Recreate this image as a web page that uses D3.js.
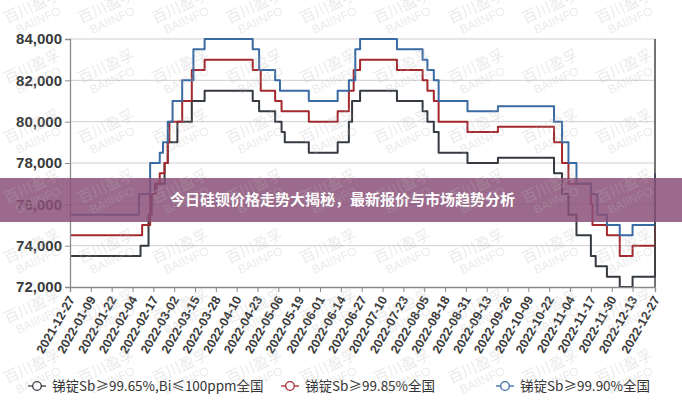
<!DOCTYPE html>
<html><head><meta charset="utf-8">
<script src="https://cdn.jsdelivr.net/npm/d3@7"></script>
<style>
html,body{margin:0;padding:0;background:#fff;}
svg{display:block;}
</style></head>
<body>
<svg id="c" width="682" height="400"></svg>
<script>
// ---------------- DATA ----------------
const seriesNames = ["锑锭Sb≥99.65%,Bi≤100ppm全国", "锑锭Sb≥99.85%全国", "锑锭Sb≥99.90%全国"];
const seriesSb9965 = [
 ["2021-12-27",73500],["2022-02-09",74000],["2022-02-14",75500],["2022-02-16",76500],["2022-02-18",77000],
 ["2022-02-24",78000],["2022-02-26",79000],["2022-03-04",80000],["2022-03-13",81000],["2022-03-21",81500],
 ["2022-04-20",81000],["2022-04-24",80500],["2022-05-04",80000],["2022-05-08",79500],["2022-05-10",79000],
 ["2022-05-25",78500],["2022-06-12",79000],["2022-06-19",80000],["2022-06-21",81000],["2022-06-26",81500],
 ["2022-07-19",81000],["2022-08-04",80500],["2022-08-07",80000],["2022-08-11",79500],["2022-08-14",78500],
 ["2022-09-01",78000],["2022-09-20",78250],["2022-10-25",77500],["2022-10-30",76500],["2022-11-03",75500],
 ["2022-11-08",74500],["2022-11-17",73500],["2022-11-20",73000],["2022-11-27",72500],["2022-12-05",72000],
 ["2022-12-13",72500],["2022-12-27",75000]
];
const seriesSb9985 = [
 ["2021-12-27",74500],["2022-02-10",75000],["2022-02-15",76500],["2022-02-19",77000],["2022-02-21",77500],
 ["2022-02-24",78000],["2022-02-26",79000],["2022-02-27",80000],["2022-03-07",81000],["2022-03-13",82500],
 ["2022-03-21",83000],["2022-04-20",82500],["2022-04-25",81500],["2022-05-04",81000],["2022-05-08",80500],
 ["2022-05-25",80000],["2022-06-12",80500],["2022-06-19",81500],["2022-06-22",82500],["2022-06-26",83000],
 ["2022-07-19",82500],["2022-08-04",82000],["2022-08-07",81500],["2022-08-11",81000],["2022-08-14",80000],
 ["2022-09-01",79500],["2022-09-20",79750],["2022-10-25",79000],["2022-10-30",78000],["2022-11-03",77000],
 ["2022-11-17",76000],["2022-11-18",75000],["2022-11-27",74500],["2022-12-05",73500],["2022-12-13",74000],
 ["2022-12-27",76500]
];
const seriesSb9990 = [
 ["2021-12-27",75500],["2022-02-08",76500],["2022-02-15",78000],["2022-02-21",78500],["2022-02-23",79000],
 ["2022-02-26",80000],["2022-03-01",81000],["2022-03-07",82000],["2022-03-14",83500],["2022-03-21",84000],
 ["2022-04-20",83500],["2022-04-24",82500],["2022-05-04",82000],["2022-05-07",81500],["2022-05-25",81000],
 ["2022-06-12",81500],["2022-06-19",82000],["2022-06-23",83500],["2022-06-26",84000],["2022-07-19",83500],
 ["2022-08-04",83000],["2022-08-07",82500],["2022-08-11",82000],["2022-08-14",81000],["2022-09-01",80500],
 ["2022-09-20",80750],["2022-10-25",80000],["2022-10-30",79000],["2022-11-03",78000],["2022-11-08",77000],
 ["2022-11-17",76500],["2022-11-21",75500],["2022-11-27",75000],["2022-12-05",74500],["2022-12-13",75000],
 ["2022-12-27",77500]
];
const xTickLabels = ["2021-12-27","2022-01-09","2022-01-22","2022-02-04","2022-02-17","2022-03-02","2022-03-15",
 "2022-03-28","2022-04-10","2022-04-23","2022-05-06","2022-05-19","2022-06-01","2022-06-14","2022-06-27",
 "2022-07-10","2022-07-23","2022-08-05","2022-08-18","2022-08-31","2022-09-13","2022-09-26","2022-10-09",
 "2022-10-22","2022-11-04","2022-11-17","2022-11-30","2022-12-13","2022-12-27"];
const yTickValues = [72000, 74000, 76000, 78000, 80000, 82000, 84000];
const bannerText = "今日硅钡价格走势大揭秘，最新报价与市场趋势分析";
const watermarkCN = "百川盈孚", watermarkEN = "BAIINFO";

// ---------------- CHART ----------------
const parse = d3.utcParse("%Y-%m-%d");
const colors = ["#343a40", "#a3282e", "#3a6aa3"];
const allSeries = [seriesSb9965, seriesSb9985, seriesSb9990].map(s => s.map(([d, v]) => ({date: parse(d), value: v})));

const svg = d3.select("#c");
const L = 70, R = 655, T = 39, B = 287;
const x = d3.scaleUtc().domain([parse(xTickLabels[0]), parse(xTickLabels[xTickLabels.length - 1])]).range([L, R]);
const y = d3.scaleLinear().domain([72000, 84000]).range([B, T]);

// gridlines
svg.append("g").selectAll("line").data(yTickValues.filter(v => v > 72000)).join("line")
  .attr("x1", L).attr("x2", R).attr("y1", d => y(d)).attr("y2", d => y(d))
  .attr("stroke", "#cfcfcf").attr("stroke-width", 1);

// lines
const line = d3.line().x(d => x(d.date)).y(d => y(d.value)).curve(d3.curveStepAfter);
svg.append("g").selectAll("path").data(allSeries).join("path")
  .attr("d", line).attr("fill", "none")
  .attr("stroke", (d, i) => colors[i]).attr("stroke-width", 2).attr("stroke-linejoin", "round");

// right border
svg.append("line").attr("x1", R).attr("x2", R).attr("y1", T).attr("y2", B)
  .attr("stroke", "#444").attr("stroke-width", 1.5);

// y axis
const yAxis = svg.append("g").attr("transform", `translate(${L},0)`)
  .call(d3.axisLeft(y).tickValues(yTickValues).tickSize(5).tickPadding(3).tickFormat(d3.format(",")));
yAxis.select(".domain").attr("stroke", "#8a8a8a").attr("stroke-width", 1.3);
yAxis.selectAll(".tick line").attr("stroke", "#8a8a8a");
yAxis.selectAll("text").attr("font-family", "'Liberation Sans', Arial, sans-serif")
  .attr("font-size", "15px").attr("font-weight", "bold").attr("fill", "#3a3a3a");

// x axis
const xAxis = svg.append("g").attr("transform", `translate(0,${B})`)
  .call(d3.axisBottom(x).tickValues(xTickLabels.map(parse)).tickSize(5).tickFormat(d3.utcFormat("%Y-%m-%d")));
xAxis.select(".domain").attr("stroke", "#8a8a8a").attr("stroke-width", 1.3);
xAxis.selectAll(".tick line").attr("stroke", "#8a8a8a");
xAxis.selectAll("text")
  .attr("x", 0).attr("y", 0).attr("dy", "0.35em")
  .attr("transform", "translate(1,10) rotate(-60)")
  .style("text-anchor", "end")
  .attr("font-family", "'Liberation Sans', Arial, sans-serif")
  .attr("font-size", "12.5px").attr("font-weight", "bold").attr("fill", "#3a3a3a");

// legend
const legendX = [37, 290, 505];
const lg = svg.append("g").attr("transform", "translate(0,386)");
seriesNames.forEach((name, i) => {
  const g = lg.append("g").attr("transform", `translate(${legendX[i]},0)`);
  g.append("line").attr("x1", -9).attr("x2", 9).attr("stroke", colors[i]).attr("stroke-width", 1.3);
  g.append("circle").attr("r", 4.3).attr("fill", "#fff").attr("stroke", colors[i]).attr("stroke-width", 1.3);
  g.append("text").attr("x", 15).attr("dy", "0.35em").text(name)
    .attr("font-family", "'Noto Sans CJK SC', sans-serif").attr("font-size", "13.5px").attr("fill", "#333");
});

// banner
svg.append("rect").attr("x", 0).attr("y", 178).attr("width", 682).attr("height", 44)
  .attr("fill", "rgb(137,80,120)").attr("fill-opacity", 0.85);
svg.append("text").attr("x", 170).attr("y", 200).attr("dy", "0.35em").text(bannerText)
  .attr("font-family", "'Noto Sans CJK SC', sans-serif").attr("font-weight", "bold")
  .attr("font-size", "15px").attr("fill", "#fff");

// watermark
const wm = svg.append("g").attr("pointer-events", "none");
for (let cx = 35; cx < 700; cx += 74) {
  for (let cy = 13; cy < 420; cy += 60) {
    const g = wm.append("g").attr("transform", `translate(${cx},${cy}) rotate(-25)`);
    g.append("text").attr("text-anchor", "middle").attr("y", -2).text(watermarkCN)
      .attr("font-family", "'Noto Sans CJK SC', sans-serif").attr("font-size", "15px")
      .attr("fill", "#b8b8b8").attr("fill-opacity", 0.3);
    g.append("text").attr("text-anchor", "middle").attr("y", 12).text(watermarkEN)
      .attr("font-family", "'Liberation Sans', sans-serif").attr("font-size", "12px")
      .attr("fill", "#b8b8b8").attr("fill-opacity", 0.3);
  }
}
</script>
</body></html>
